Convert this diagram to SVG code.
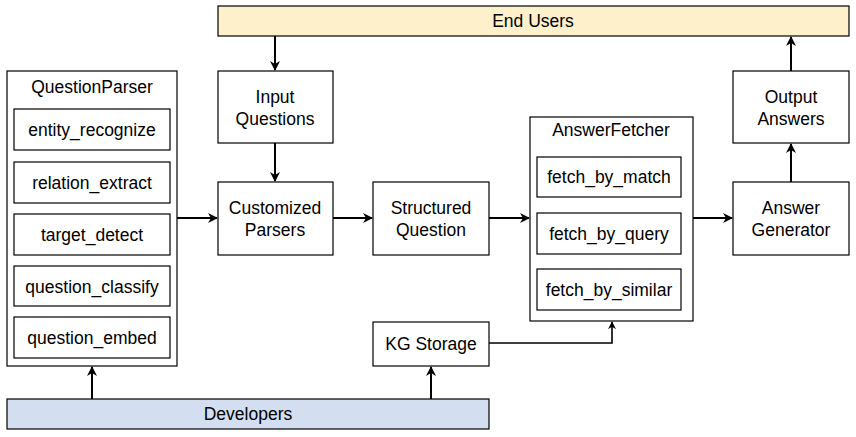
<svg xmlns="http://www.w3.org/2000/svg" width="856" height="437" viewBox="0 0 856 437">
<style>
.b{fill:#fff;stroke:#000;stroke-width:1.2}
.t{font-family:"Liberation Sans",Arial,sans-serif;font-size:17.5px;fill:#000;text-anchor:middle;dominant-baseline:central}
.c{fill:none;stroke:#000;stroke-width:2}
.c2{fill:none;stroke:#000;stroke-width:1.6}
</style>
<defs>
<marker id="a" viewBox="0 0 10 10" refX="9" refY="5" markerWidth="5" markerHeight="5" orient="auto" markerUnits="strokeWidth">
<path d="M0,0 L10,5 L0,10 L3,5 Z" fill="#000"/>
</marker>
</defs>
<rect width="856" height="437" fill="#fff"/>
<g id="endusers"><rect x="218" y="6" width="631" height="30" fill="#FDF0CB" stroke="#000" stroke-width="1.2"/><text class="t" x="533" y="21">End Users</text></g>
<g id="questionparser"><rect class="b" x="7" y="71" width="170" height="295"/><text class="t" x="92" y="87">QuestionParser</text>
<rect class="b" x="14" y="109" width="156" height="41"/><text class="t" x="92" y="130">entity_recognize</text>
<rect class="b" x="14" y="162" width="156" height="41"/><text class="t" x="92" y="183">relation_extract</text>
<rect class="b" x="14" y="214" width="156" height="41"/><text class="t" x="92" y="235">target_detect</text>
<rect class="b" x="14" y="266" width="156" height="40"/><text class="t" x="92" y="287">question_classify</text>
<rect class="b" x="14" y="317" width="156" height="41"/><text class="t" x="92" y="338">question_embed</text></g>
<g id="input"><rect class="b" x="218" y="71" width="115" height="72"/><text class="t" x="275" y="97">Input</text><text class="t" x="275" y="119">Questions</text></g>
<g id="customized"><rect class="b" x="218" y="182" width="115" height="73"/><text class="t" x="275" y="208">Customized</text><text class="t" x="275" y="230">Parsers</text></g>
<g id="structured"><rect class="b" x="373" y="182" width="116" height="73"/><text class="t" x="431" y="208">Structured</text><text class="t" x="431" y="230">Question</text></g>
<g id="answerfetcher"><rect class="b" x="530" y="117" width="163" height="204"/><text class="t" x="611" y="130">AnswerFetcher</text>
<rect class="b" x="537" y="157" width="144" height="40"/><text class="t" x="609" y="177">fetch_by_match</text>
<rect class="b" x="537" y="213" width="144" height="41"/><text class="t" x="609" y="234">fetch_by_query</text>
<rect class="b" x="537" y="269" width="144" height="41"/><text class="t" x="609" y="290">fetch_by_similar</text></g>
<g id="output"><rect class="b" x="733" y="71" width="116" height="72"/><text class="t" x="791" y="97">Output</text><text class="t" x="791" y="119">Answers</text></g>
<g id="generator"><rect class="b" x="733" y="182" width="116" height="73"/><text class="t" x="791" y="208">Answer</text><text class="t" x="791" y="230">Generator</text></g>
<g id="kgstorage"><rect class="b" x="373" y="322" width="116" height="44"/><text class="t" x="431" y="344">KG Storage</text></g>
<g id="developers"><rect x="7" y="399" width="482" height="30" fill="#D3DEF0" stroke="#000" stroke-width="1.2"/><text class="t" x="248" y="414">Developers</text></g>
<g id="connectors">
<path class="c" d="M275,36 V70" marker-end="url(#a)"/>
<path class="c" d="M275,143 V181" marker-end="url(#a)"/>
<path class="c" d="M177,218 H217" marker-end="url(#a)"/>
<path class="c" d="M333,218 H372" marker-end="url(#a)"/>
<path class="c" d="M489,218 H529" marker-end="url(#a)"/>
<path class="c" d="M693,218 H732" marker-end="url(#a)"/>
<path class="c" d="M791,182 V144" marker-end="url(#a)"/>
<path class="c" d="M791,71 V37" marker-end="url(#a)"/>
<path class="c" d="M92,399 V367" marker-end="url(#a)"/>
<path class="c" d="M431,399 V367" marker-end="url(#a)"/>
<path class="c2" d="M489,343 H612 V322" marker-end="url(#a)"/>
</g>
</svg>
